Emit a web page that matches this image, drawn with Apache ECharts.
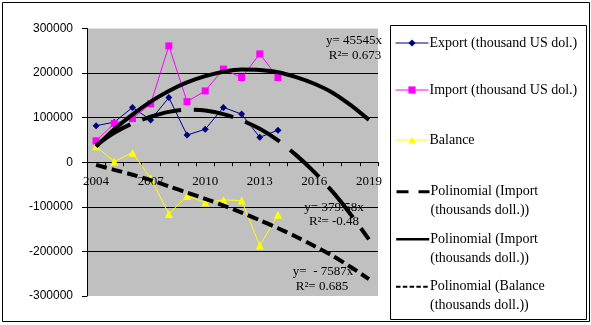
<!DOCTYPE html>
<html>
<head>
<meta charset="utf-8">
<script src="https://cdn.jsdelivr.net/npm/echarts@6/dist/echarts.min.js"></script>
<style>
html,body{margin:0;padding:0;background:#fff;}
#chart{width:591px;height:325px;}
</style>
</head>
<body>
<div id="chart"></div>
<script>
// ---- data ----
var years = ['2004','2005','2006','2007','2008','2009','2010','2011','2012','2013','2014','2015','2016','2017','2018','2019'];
var exportVals  = [82000, 90000, 123000, 95000, 145000, 61000, 74000, 123000, 108000, 56000, 72000];
var importVals  = [48000, 87000, 98000, 131000, 261000, 136000, 160000, 209000, 190000, 243000, 190000];
var balanceVals = [36000, 1500, 21500, -36000, -116000, -75500, -90000, -84500, -86000, -187000, -118000];
// trend (polynomial) curves, read at each year
var exportTrend  = [38000, 66000, 87000, 102000, 113000, 118000, 116000, 108000, 94000, 75000, 49000, 16000, -22000, -66000, -117000, -173000];
var importTrend  = [35000, 74000, 107000, 136000, 160000, 179000, 193000, 203000, 208000, 207000, 202000, 191000, 176000, 156000, 128000, 95000];
var balanceTrend = [-6000, -17000, -28000, -40000, -54000, -68000, -82000, -97000, -113000, -130000, -148000, -167000, -188000, -210000, -235000, -262000];
var yTicks = [-300000, -200000, -100000, 0, 100000, 200000, 300000];
var seriesNames = ['Export (thousand US dol.)', 'Import (thousand US dol.)', 'Balance', 'trendExport', 'trendImport', 'trendBalance'];
var legendLabels = {
  'Export (thousand US dol.)': 'Export (thousand US dol.)',
  'Import (thousand US dol.)': 'Import (thousand US dol.)',
  'Balance': 'Balance',
  'trendExport': '\nPolinomial (Import\n(thousands doll.))',
  'trendImport': '\nPolinomial (Import\n(thousands doll.))',
  'trendBalance': '\nPolinomial (Balance\n(thousands doll.))'
};
var equations = [
  {text: 'y= 45545x', x: 354, y: 41},
  {text: 'R\u00b2= 0.673', x: 355, y: 56},
  {text: 'y= 379.58x', x: 334, y: 208},
  {text: 'R\u00b2= -0.48', x: 334, y: 222},
  {text: 'y=  - 7587x', x: 323, y: 272},
  {text: 'R\u00b2= 0.685', x: 322, y: 287}
];

var serif = '"Liberation Serif", "Times New Roman", serif';
var sans = '"Liberation Sans", Arial, sans-serif';

function mkLegend(name, top, opts) {
  return {
    data: [name],
    left: 395,
    top: top,
    padding: 0,
    orient: 'vertical',
    itemWidth: 33,
    itemHeight: 9,
    selectedMode: false,
    formatter: function (n) { return legendLabels[n]; },
    textStyle: {
      fontFamily: serif, fontSize: 14, color: '#000', lineHeight: 19,
      padding: [0, 0, 0, -4]
    },
    lineStyle: opts.lineStyle,
    itemStyle: opts.itemStyle || {}
  };
}

var chart = echarts.init(document.getElementById('chart'), null, {renderer: 'canvas'});
var option = {
  animation: false,
  backgroundColor: '#fff',
  grid: [
    {left: 87, top: 28.5, width: 291, height: 267.5,
     show: true, backgroundColor: '#c0c0c0', borderWidth: 0,
     outerBoundsMode: 'none', containLabel: false},
    // upper half grid whose bottom edge is the zero line: carries the visible category axis
    {left: 87, top: 28.5, width: 291, height: 133.75,
     show: false, outerBoundsMode: 'none', containLabel: false}
  ],
  legend: [
    mkLegend(seriesNames[0], 33.5, {lineStyle: {width: 1}}),
    mkLegend(seriesNames[1], 80.5, {lineStyle: {width: 1}}),
    mkLegend(seriesNames[2], 130.5, {lineStyle: {width: 1}}),
    mkLegend(seriesNames[3], 163.2, {lineStyle: {width: 3, type: [12, 10]}, itemStyle: {opacity: 0}}),
    mkLegend(seriesNames[4], 210.8, {lineStyle: {width: 2.5, type: 'solid'}, itemStyle: {opacity: 0}}),
    mkLegend(seriesNames[5], 258.2, {lineStyle: {width: 2, type: [4.5, 2.3]}, itemStyle: {opacity: 0}})
  ],
  xAxis: [
    {type: 'category', gridIndex: 0, data: years, boundaryGap: true,
     axisLine: {show: false}, axisTick: {show: false}, axisLabel: {show: false}, splitLine: {show: false}},
    {type: 'category', gridIndex: 1, data: years, boundaryGap: true, position: 'bottom',
     axisLine: {show: true, onZero: false, lineStyle: {color: '#000', width: 1}},
     axisTick: {show: true, interval: 0, length: 4, lineStyle: {color: '#000'}},
     axisLabel: {interval: 2, margin: 13, fontFamily: serif, fontSize: 13, color: '#000'},
     splitLine: {show: false}}
  ],
  yAxis: [
    {type: 'value', gridIndex: 0,
     min: yTicks[0], max: yTicks[yTicks.length - 1], interval: 100000,
     axisLine: {show: true, lineStyle: {color: '#000', width: 1}},
     axisTick: {show: true, length: 5, lineStyle: {color: '#000'}},
     axisLabel: {margin: 14, fontFamily: sans, fontSize: 12, color: '#000',
                 formatter: function (v) { return String(v); }},
     splitLine: {show: true, lineStyle: {color: ['transparent', '#000', '#000', '#000', '#000', '#000', 'transparent'], width: 1}}},
    {type: 'value', gridIndex: 1, min: 0, max: yTicks[yTicks.length - 1], show: false}
  ],
  series: [
    {name: seriesNames[0], type: 'line', data: exportVals, symbol: 'diamond', symbolSize: 7,
     itemStyle: {color: '#000080'}, lineStyle: {color: '#000080', width: 1}, z: 2},
    {name: seriesNames[1], type: 'line', data: importVals, symbol: 'rect', symbolSize: 7,
     itemStyle: {color: '#ff00ff'}, lineStyle: {color: '#ff00ff', width: 1}, z: 3},
    {name: seriesNames[2], type: 'line', data: balanceVals, symbol: 'triangle', symbolSize: 8,
     itemStyle: {color: '#ffff00'}, lineStyle: {color: '#ffff00', width: 1}, z: 4},
    {name: seriesNames[3], type: 'line', data: exportTrend, smooth: 0.3, showSymbol: false, symbol: 'circle',
     itemStyle: {color: '#000'}, lineStyle: {color: '#000', width: 4, type: [40, 13]}, z: 5},
    {name: seriesNames[4], type: 'line', data: importTrend, smooth: 0.3, showSymbol: false, symbol: 'circle',
     itemStyle: {color: '#000'}, lineStyle: {color: '#000', width: 4, type: 'solid'}, z: 6},
    {name: seriesNames[5], type: 'line', data: balanceTrend, smooth: 0.3, showSymbol: false, symbol: 'circle',
     itemStyle: {color: '#000'}, lineStyle: {color: '#000', width: 4, type: [11, 5]}, z: 7}
  ],
  graphic: [
    {type: 'rect', shape: {x: 2.5, y: 2.5, width: 587, height: 319}, style: {fill: 'none', stroke: '#000', lineWidth: 1}, silent: true, z: 50},
    {type: 'rect', shape: {x: 390.5, y: 25.5, width: 196, height: 294}, style: {fill: 'none', stroke: '#000', lineWidth: 1}, silent: true, z: 50}
  ].concat(equations.map(function (e) {
    return {type: 'text', x: e.x, y: e.y, z: 100, silent: true,
      style: {text: e.text, font: '13px ' + serif, fill: '#000', align: 'center', verticalAlign: 'middle'}};
  }))
};
chart.setOption(option);
</script>
</body>
</html>
